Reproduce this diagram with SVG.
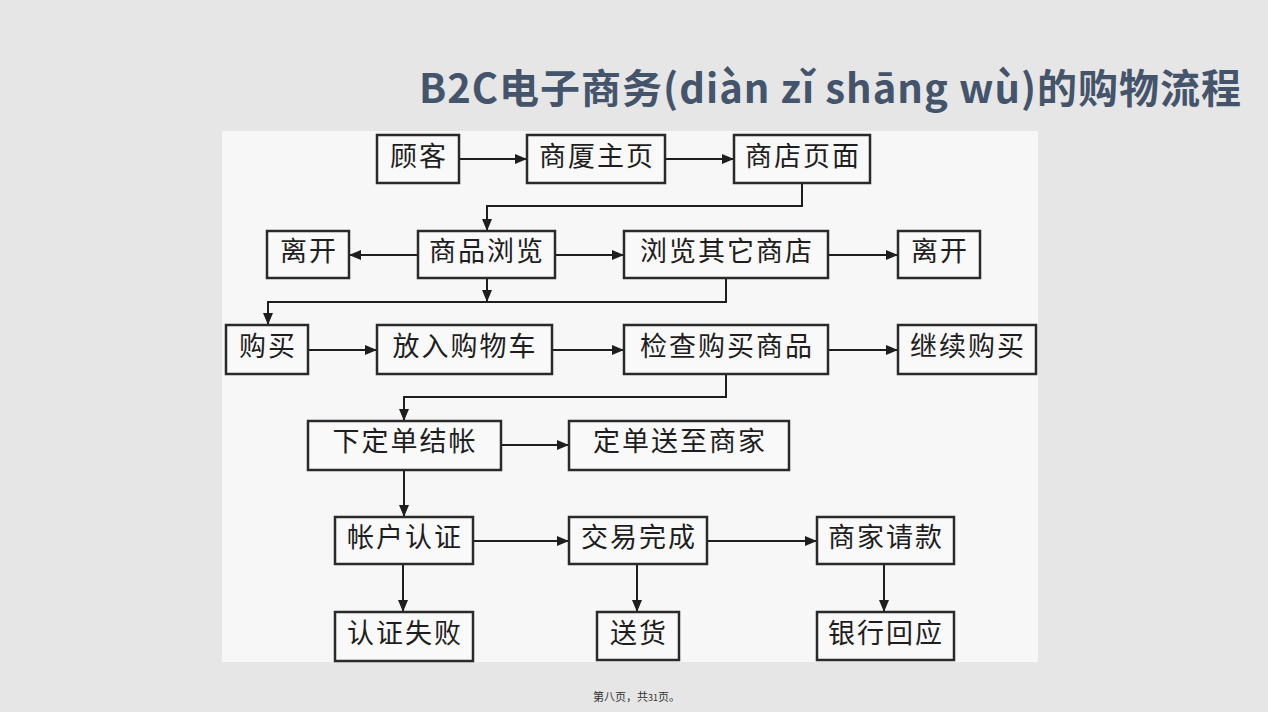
<svg xmlns="http://www.w3.org/2000/svg" width="1268" height="712" viewBox="0 0 1268 712">
<defs>
<marker id="ah" markerUnits="userSpaceOnUse" markerWidth="14" markerHeight="12" refX="12" refY="5" orient="auto">
<path d="M0,0 L12,5 L0,10 z" fill="#1e1e1e"/>
</marker>
<style>
.box{fill:#f9f9f9;stroke:#2a2a2a;stroke-width:2.5}
.lbl{font-family:"Noto Sans CJK SC","Noto Sans CJK TC",sans-serif;font-size:27px;fill:#1e1e1e;text-anchor:middle;letter-spacing:2px}
.c{fill:none;stroke:#1e1e1e;stroke-width:2}
.ca{fill:none;stroke:#1e1e1e;stroke-width:2;marker-end:url(#ah)}
</style>
</defs>
<rect x="0" y="0" width="1268" height="712" fill="#e6e6e6"/>
<text x="830" y="103" text-anchor="middle" textLength="822" lengthAdjust="spacing" font-family="'Noto Sans CJK SC','Noto Sans CJK TC',sans-serif" font-size="40" font-weight="bold" fill="#44546a">B2C电子商务(diàn zǐ shāng wù)的购物流程</text>
<rect x="222" y="131" width="816" height="531" fill="#f7f7f7"/>
<g id="connectors">
<line class="ca" x1="459" y1="159" x2="527" y2="159"/>
<line class="ca" x1="665" y1="159" x2="734" y2="159"/>
<path class="ca" d="M802,183 V206 H487 V231"/>
<line class="ca" x1="418" y1="255" x2="349" y2="255"/>
<line class="ca" x1="555" y1="255" x2="624" y2="255"/>
<line class="ca" x1="828" y1="255" x2="898" y2="255"/>
<line class="ca" x1="487" y1="278" x2="487" y2="302"/>
<path class="ca" d="M726,278 V302 H268 V325"/>
<line class="ca" x1="308" y1="350" x2="377" y2="350"/>
<line class="ca" x1="552" y1="350" x2="624" y2="350"/>
<line class="ca" x1="828" y1="350" x2="898" y2="350"/>
<path class="ca" d="M726,374 V397 H404 V421"/>
<line class="ca" x1="501" y1="445" x2="569" y2="445"/>
<line class="ca" x1="404" y1="470" x2="404" y2="517"/>
<line class="ca" x1="473" y1="541" x2="569" y2="541"/>
<line class="ca" x1="707" y1="541" x2="817" y2="541"/>
<line class="ca" x1="403" y1="564" x2="403" y2="612"/>
<line class="ca" x1="637" y1="564" x2="637" y2="612"/>
<line class="ca" x1="884" y1="564" x2="884" y2="612"/>
</g>
<g id="n-guke"><rect class="box" x="377" y="135" width="82" height="48"/><text class="lbl" x="419" y="166">顾客</text></g>
<g id="n-shangsha"><rect class="box" x="527" y="135" width="138" height="48"/><text class="lbl" x="597" y="166">商厦主页</text></g>
<g id="n-shangdian"><rect class="box" x="734" y="135" width="136" height="48"/><text class="lbl" x="803" y="166">商店页面</text></g>
<g id="n-likai1"><rect class="box" x="267" y="231" width="82" height="47"/><text class="lbl" x="309" y="261">离开</text></g>
<g id="n-liulan"><rect class="box" x="418" y="231" width="137" height="47"/><text class="lbl" x="487" y="261">商品浏览</text></g>
<g id="n-qita"><rect class="box" x="624" y="231" width="204" height="47"/><text class="lbl" x="727" y="261">浏览其它商店</text></g>
<g id="n-likai2"><rect class="box" x="898" y="231" width="82" height="47"/><text class="lbl" x="940" y="261">离开</text></g>
<g id="n-goumai"><rect class="box" x="226" y="325" width="82" height="49"/><text class="lbl" x="268" y="356">购买</text></g>
<g id="n-fangru"><rect class="box" x="377" y="325" width="175" height="49"/><text class="lbl" x="465" y="356">放入购物车</text></g>
<g id="n-jiancha"><rect class="box" x="624" y="325" width="204" height="49"/><text class="lbl" x="727" y="356">检查购买商品</text></g>
<g id="n-jixu"><rect class="box" x="898" y="325" width="138" height="49"/><text class="lbl" x="968" y="356">继续购买</text></g>
<g id="n-xiading"><rect class="box" x="308" y="421" width="193" height="49"/><text class="lbl" x="405" y="451">下定单结帐</text></g>
<g id="n-songzhi"><rect class="box" x="569" y="421" width="220" height="49"/><text class="lbl" x="680" y="451">定单送至商家</text></g>
<g id="n-renzheng"><rect class="box" x="335" y="517" width="138" height="47"/><text class="lbl" x="405" y="547">帐户认证</text></g>
<g id="n-jiaoyi"><rect class="box" x="569" y="517" width="138" height="47"/><text class="lbl" x="639" y="547">交易完成</text></g>
<g id="n-qingkuan"><rect class="box" x="817" y="517" width="137" height="47"/><text class="lbl" x="886" y="547">商家请款</text></g>
<g id="n-shibai"><rect class="box" x="335" y="612" width="138" height="49"/><text class="lbl" x="405" y="643">认证失败</text></g>
<g id="n-songhuo"><rect class="box" x="597" y="612" width="82" height="48"/><text class="lbl" x="639" y="643">送货</text></g>
<g id="n-yinhang"><rect class="box" x="817" y="612" width="137" height="48"/><text class="lbl" x="886" y="643">银行回应</text></g>
<text x="593" y="701" font-family="'Noto Sans CJK SC',sans-serif" font-size="11" fill="#333333">第八页，共<tspan font-size="9">31</tspan>页。</text>
</svg>
